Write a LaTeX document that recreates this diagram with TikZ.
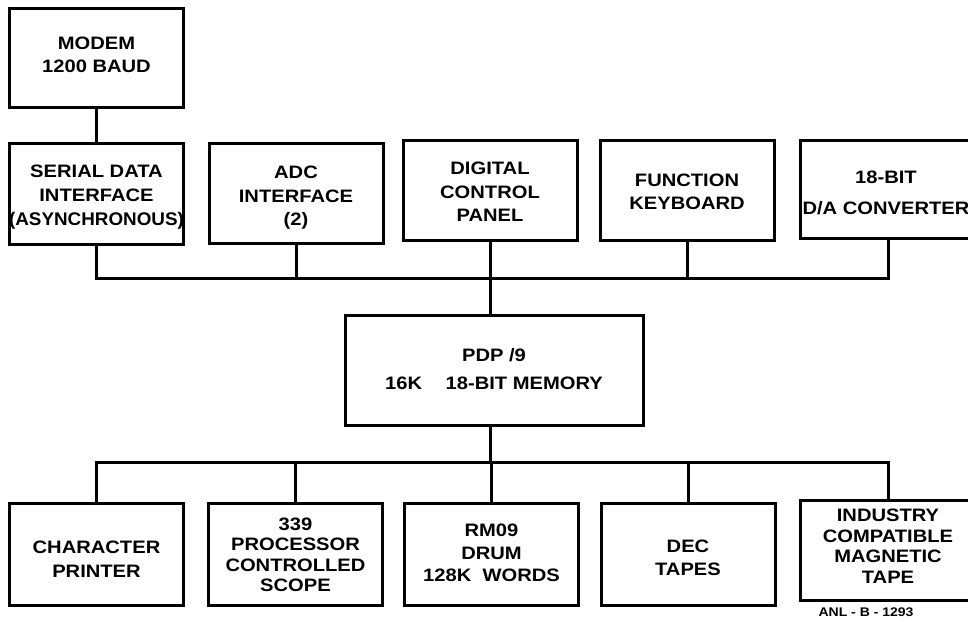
\documentclass[tikz,border=0pt]{standalone}
\usepackage{fontspec}
\setmainfont{Liberation Sans}[FakeStretch=1.12]
\newfontfamily\plainsans{Liberation Sans}[FakeStretch=1.03]
\begin{document}
\begin{tikzpicture}[x=1pt,y=-1pt,
  box/.style={draw, line width=3pt, inner sep=0pt, minimum width=174pt, minimum height=100pt},
  txt/.style={align=center, inner sep=0pt, font=\bfseries\fontsize{18}{23.5}\selectfont},
  btxt/.style={txt, font=\bfseries\fontsize{18}{20.5}\selectfont},
  wire/.style={line width=3pt}]
\clip (0,0) rectangle (968,621);
\fill[white] (0,0) rectangle (968,621);
% boxes
\node[box, minimum height=99pt] (modem) at (96.5,57.5) {};
\node[box, minimum height=101pt] (serial) at (96.5,194) {};
\node[box] (adc) at (296,193) {};
\node[box] (dcp) at (490,190) {};
\node[box] (fk) at (687,190) {};
\node[box, minimum width=176pt, minimum height=98pt] (da) at (888,189) {};
\node[box, minimum width=298pt, minimum height=110pt] (pdp) at (494,370) {};
\node[box, minimum height=102pt] (cp) at (96.5,554) {};
\node[box, minimum height=102pt] (scope) at (295.5,554) {};
\node[box, minimum height=102pt] (drum) at (491.5,554) {};
\node[box, minimum height=102pt] (dec) at (688,554) {};
\node[box, minimum width=176pt] (ind) at (888,550) {};
% texts
\node[txt] (modem-t) at (96.5,55) {MODEM\\1200 BAUD};
\node[txt, font=\bfseries\fontsize{18}{24}\selectfont] (serial-t) at (96.5,197) {SERIAL DATA\\INTERFACE\\{\plainsans\bfseries\fontsize{18.3}{24}\selectfont(ASYNCHRONOUS)}};
\node[txt] (adc-t) at (296,198) {ADC\\INTERFACE\\(2)};
\node[txt] (dcp-t) at (490,192) {DIGITAL\\CONTROL\\PANEL};
\node[txt] (fk-t) at (687,192) {FUNCTION\\KEYBOARD};
\node[txt] (da-t) at (886,193) {18-BIT\\[8pt]D/A CONVERTER};
\node[txt, font=\bfseries\fontsize{18}{28}\selectfont] (pdp-t) at (494,369) {PDP /9\\16K\quad\ 18-BIT MEMORY};
\node[txt] (cp-t) at (96.5,559) {CHARACTER\\PRINTER};
\node[btxt] (scope-t) at (295.5,555) {339\\PROCESSOR\\CONTROLLED\\SCOPE};
\node[btxt] (drum-t) at (491.5,553) {RM09\\[2pt]DRUM\\[2pt]128K\ \ WORDS};
\node[txt] (dec-t) at (688,558) {DEC\\TAPES};
\node[btxt] (ind-t) at (888,546) {INDUSTRY\\COMPATIBLE\\MAGNETIC\\TAPE};
\node[font=\bfseries\fontsize{12.5}{14}\selectfont] (tag) at (866,612) {ANL - B - 1293};
% buses
\coordinate (bus1) at (97,278);
\coordinate (bus2) at (97,462);
\draw[wire] (modem.south) -- (serial.north);
\draw[wire] (serial.south) -- (serial.south |- bus1) -- (da.south |- bus1) -- (da.south);
\draw[wire] (adc.south) -- (adc.south |- bus1);
\draw[wire] (dcp.south) -- (dcp.south |- bus1);
\draw[wire] (fk.south) -- (fk.south |- bus1);
\draw[wire] (pdp.north -| dcp.south) -- (dcp.south |- bus1);
\draw[wire] (pdp.south -| dcp.south) -- (dcp.south |- bus2);
\draw[wire] (cp.north) -- (cp.north |- bus2) -- (ind.north |- bus2) -- (ind.north);
\draw[wire] (scope.north) -- (scope.north |- bus2);
\draw[wire] (drum.north) -- (drum.north |- bus2);
\draw[wire] (dec.north) -- (dec.north |- bus2);
\end{tikzpicture}
\end{document}
